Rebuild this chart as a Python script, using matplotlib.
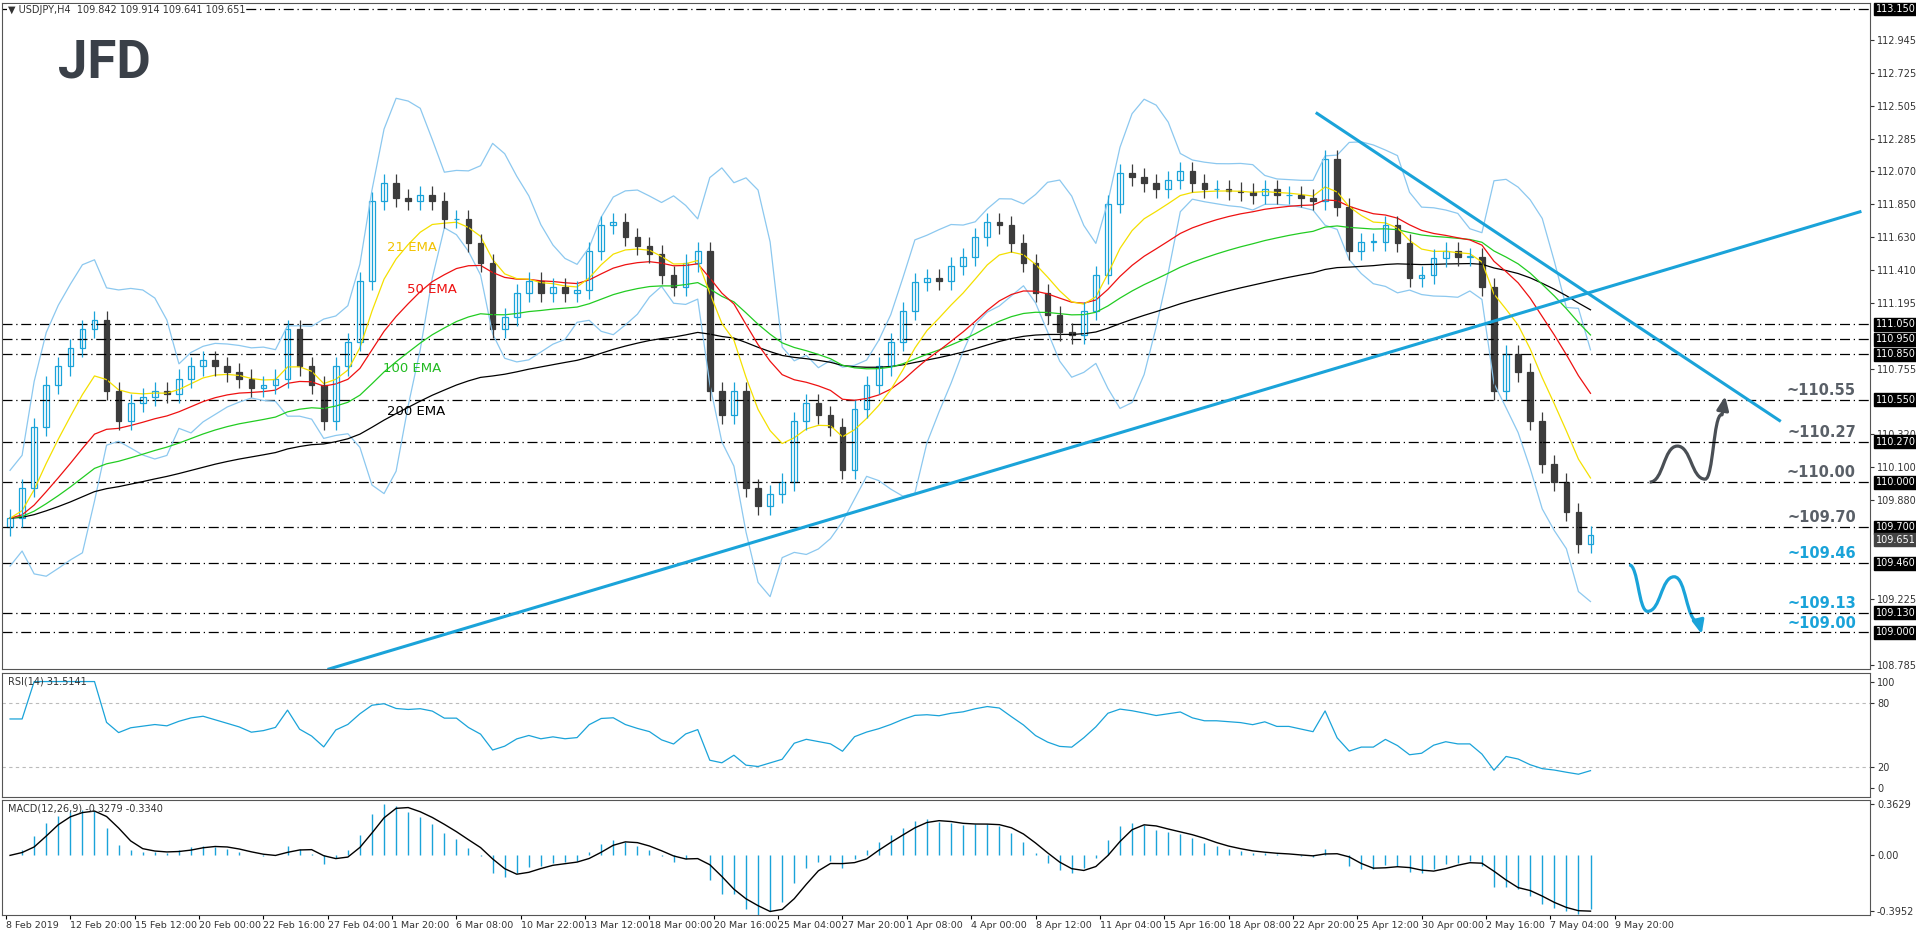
import numpy as np
import pandas as pd
import matplotlib
matplotlib.use("Agg")
import matplotlib.pyplot as plt
from matplotlib.path import Path
from matplotlib.patches import PathPatch, Rectangle

# ---------------- data (one close per 3 H4 bars) -------------
closes = [109.76,109.96,110.37,110.65,110.77,110.89,111.02,111.08,110.61,110.41,
          110.53,110.57,110.61,110.59,110.69,110.77,110.81,110.77,110.73,110.69,
          110.63,110.65,110.69,111.02,110.77,110.65,110.41,110.77,110.93,111.34,
          111.87,111.99,111.89,111.87,111.91,111.87,111.75,111.75,111.59,111.46,
          111.02,111.10,111.26,111.34,111.26,111.30,111.26,111.28,111.54,111.71,
          111.73,111.63,111.57,111.52,111.38,111.30,111.46,111.54,110.61,110.45,
          110.61,109.96,109.84,109.92,110.00,110.41,110.53,110.45,110.37,110.08,
          110.49,110.65,110.77,110.93,111.14,111.33,111.36,111.34,111.44,111.50,
          111.63,111.73,111.71,111.59,111.46,111.26,111.11,111.00,110.98,111.14,
          111.38,111.85,112.06,112.03,111.99,111.95,112.01,112.07,111.99,111.95,
          111.95,111.94,111.93,111.91,111.95,111.91,111.91,111.89,111.87,112.15,
          111.83,111.54,111.60,111.60,111.71,111.59,111.36,111.38,111.49,111.54,
          111.50,111.50,111.30,110.61,110.85,110.73,110.41,110.12,110.00,109.80,
          109.59,109.651]
first_open = 109.70
tick_labels = ["8 Feb 2019","12 Feb 20:00","15 Feb 12:00","20 Feb 00:00","22 Feb 16:00",
               "27 Feb 04:00","1 Mar 20:00","6 Mar 08:00","10 Mar 22:00","13 Mar 12:00",
               "18 Mar 00:00","20 Mar 16:00","25 Mar 04:00","27 Mar 20:00","1 Apr 08:00",
               "4 Apr 00:00","8 Apr 12:00","11 Apr 04:00","15 Apr 16:00","18 Apr 08:00",
               "22 Apr 20:00","25 Apr 12:00","30 Apr 00:00","2 May 16:00","7 May 04:00",
               "9 May 20:00"]
levels = [111.05,110.95,110.85,110.55,110.27,110.00,109.70,109.46,109.13,109.00]
price_ticks = [108.785,109.225,109.880,110.100,110.320,
               110.755,111.195,111.410,111.630,111.850,112.070,112.285,112.505,
               112.725,112.945]
gray_lbls = [("~110.55",110.55),("~110.27",110.27),("~110.00",110.00),("~109.70",109.70)]
blue_lbls = [("~109.46",109.46),("~109.13",109.13),("~109.00",109.00)]

BLUE = "#1aa3d9"
DARK = "#4a4f55"

c = pd.Series(closes)
o = pd.Series([first_open] + closes[:-1])
x = np.arange(len(closes)) * 3 + 1
hi = np.maximum(o, c) + 0.06
lo = np.minimum(o, c) - 0.06

ema = lambda s, n: s.ewm(span=n, adjust=False).mean()
e21, e50, e100, e200 = ema(c, 7), ema(c, 17), ema(c, 33), ema(c, 67)
ma = c.rolling(7, min_periods=1).mean()
sd = c.rolling(7, min_periods=2).std().bfill()
bbu, bbl = ma + 1.9 * sd + 0.05, ma - 1.9 * sd - 0.05
d = c.diff().fillna(0)
up = d.clip(lower=0).ewm(alpha=1/9, adjust=False).mean()
dn = (-d.clip(upper=0)).ewm(alpha=1/9, adjust=False).mean()
rsi = 100 - 100 / (1 + up / dn.replace(0, 1e-9))
rsi.iloc[:2] = 65
macd = ema(c, 4) - ema(c, 9)
sig = macd.rolling(3, min_periods=1).mean()

W, H = 1916, 936
fig = plt.figure(figsize=(W/100, H/100), dpi=100)
fig.patch.set_facecolor("white")
L, Wd = 2/W, 1868/W
ax = fig.add_axes([L, 1-669/H, Wd, 666/H])
ar = fig.add_axes([L, 1-797/H, Wd, 124/H])
am = fig.add_axes([L, 1-915/H, Wd, 115/H])
XL = (-1, 463.5)
for a in (ax, ar, am):
    a.set_xlim(*XL)
    a.yaxis.tick_right()
    a.tick_params(axis="y", labelsize=7, length=3, pad=2, colors="#333333")
    for s in a.spines.values():
        s.set_color("#555555")
ax.set_ylim(108.756, 113.19)

ax.axhline(113.15, color="k", lw=0.9, ls=(0, (8, 3, 1, 3)))
for lv in levels:
    ax.axhline(lv, color="k", lw=0.9, ls=(0, (8, 3, 1, 3)))

ax.plot(x, bbu, color="#8cc8ef", lw=0.9)
ax.plot(x, bbl, color="#8cc8ef", lw=0.9)
ax.plot(x, e200, color="black", lw=0.9)
ax.plot(x, e100, color="#22cc22", lw=0.9)
ax.plot(x, e50, color="#ee1111", lw=0.9)
ax.plot(x, e21, color="#f4e000", lw=0.9)

for xi, oi, ci, h, l in zip(x, o, c, hi, lo):
    bull = ci >= oi
    col = BLUE if bull else "#3c3c3c"
    ax.vlines(xi, l, h, color=col, lw=0.9)
    ax.add_patch(Rectangle((xi-0.7, min(oi, ci)), 1.4, max(abs(ci-oi), 0.005),
                           facecolor="white" if bull else "#3c3c3c",
                           edgecolor=col, lw=0.9))

ax.plot([80.3, 461], [108.756, 111.80], color=BLUE, lw=2.2)
ax.plot([326, 441], [112.455, 110.41], color=BLUE, lw=2.2)

ax.text(101, 111.54, "21 EMA", color="#f2c200", fontsize=9.5, ha="center")
ax.text(106, 111.26, "50 EMA", color="#ee1111", fontsize=9.5, ha="center")
ax.text(101, 110.73, "100 EMA", color="#22bb22", fontsize=9.5, ha="center")
ax.text(102, 110.45, "200 EMA", color="black", fontsize=9.5, ha="center")

def curve(pts, col):
    verts = [pts[0]]
    codes = [Path.MOVETO]
    for i in range(1, len(pts)):
        p0, p1 = pts[i-1], pts[i]
        dx = (p1[0]-p0[0]) / 2
        verts += [(p0[0]+dx, p0[1]), (p1[0]-dx, p1[1]), p1]
        codes += [Path.CURVE4]*3
    return PathPatch(Path(verts, codes), fill=False, edgecolor=col, lw=2.3)
ax.add_patch(curve([(408.7, 110.0), (415.6, 110.24), (422.5, 110.02), (426.6, 110.45)], DARK))
ax.annotate("", xy=(427.6, 110.59), xytext=(426.6, 110.43),
            arrowprops=dict(arrowstyle="-|>,head_width=0.35,head_length=0.8", color=DARK, lw=2.3))
ax.add_patch(curve([(403.6, 109.45), (408.2, 109.14), (414.8, 109.37), (420.8, 109.07)], BLUE))
ax.annotate("", xy=(421.8, 108.97), xytext=(420.8, 109.08),
            arrowprops=dict(arrowstyle="-|>,head_width=0.35,head_length=0.8", color=BLUE, lw=2.3))

for t, v in gray_lbls:
    ax.text(460, v+0.012, t, color="#5a6068", fontsize=10.5, fontweight="bold", ha="right", va="bottom")
for t, v in blue_lbls:
    ax.text(460, v+0.012, t, color=BLUE, fontsize=10.5, fontweight="bold", ha="right", va="bottom")

ax.set_yticks(price_ticks)
ax.set_yticklabels([f"{v:.3f}" for v in price_ticks])
tr = ax.get_yaxis_transform()
for lv in levels + [113.15]:
    ax.text(1.003, lv, f"{lv:.3f}", transform=tr, fontsize=7, color="white", va="center",
            ha="left", bbox=dict(boxstyle="square,pad=0.15", fc="black", ec="black"))
ax.text(1.003, 109.651, "109.651", transform=tr, fontsize=7, color="white", va="top", ha="left",
        bbox=dict(boxstyle="square,pad=0.15", fc="#444444", ec="#444444"))

ax.text(0.003, 0.997, "\u25bc USDJPY,H4  109.842 109.914 109.641 109.651", transform=ax.transAxes,
        fontsize=7, va="top", color="#333333",
        bbox=dict(fc="white", ec="none", pad=0.5))
fig.text(58/W, 1-78/H, "JFD", fontsize=38, fontweight="bold", color="#3a4048", family="Roboto")

ar.set_ylim(-8, 108)
ar.axhline(80, color="#bbbbbb", lw=0.8, ls=(0, (3, 3)))
ar.axhline(20, color="#bbbbbb", lw=0.8, ls=(0, (3, 3)))
ar.plot(x, rsi, color=BLUE, lw=0.9)
ar.set_yticks([0, 20, 80, 100])
ar.text(0.003, 0.97, "RSI(14) 31.5141", transform=ar.transAxes, fontsize=7, va="top", color="#333333")

am.set_ylim(-0.42, 0.39)
am.vlines(x, 0, macd, color=BLUE, lw=1.0)
am.plot(x, sig, color="black", lw=1.0)
am.set_yticks([0.3629, 0.0, -0.3952])
am.set_yticklabels(["0.3629", "0.00", "-0.3952"])
am.text(0.003, 0.97, "MACD(12,26,9) -0.3279 -0.3340", transform=am.transAxes, fontsize=7, va="top", color="#333333")

for a in (ax, ar):
    a.set_xticks([])
am.set_xticks(np.arange(len(tick_labels)) * 16)
am.set_xticklabels(tick_labels, fontsize=6.8, ha="left", color="#333333")
am.tick_params(axis="x", length=3, pad=1)

fig.savefig("out.png", dpi=100)
